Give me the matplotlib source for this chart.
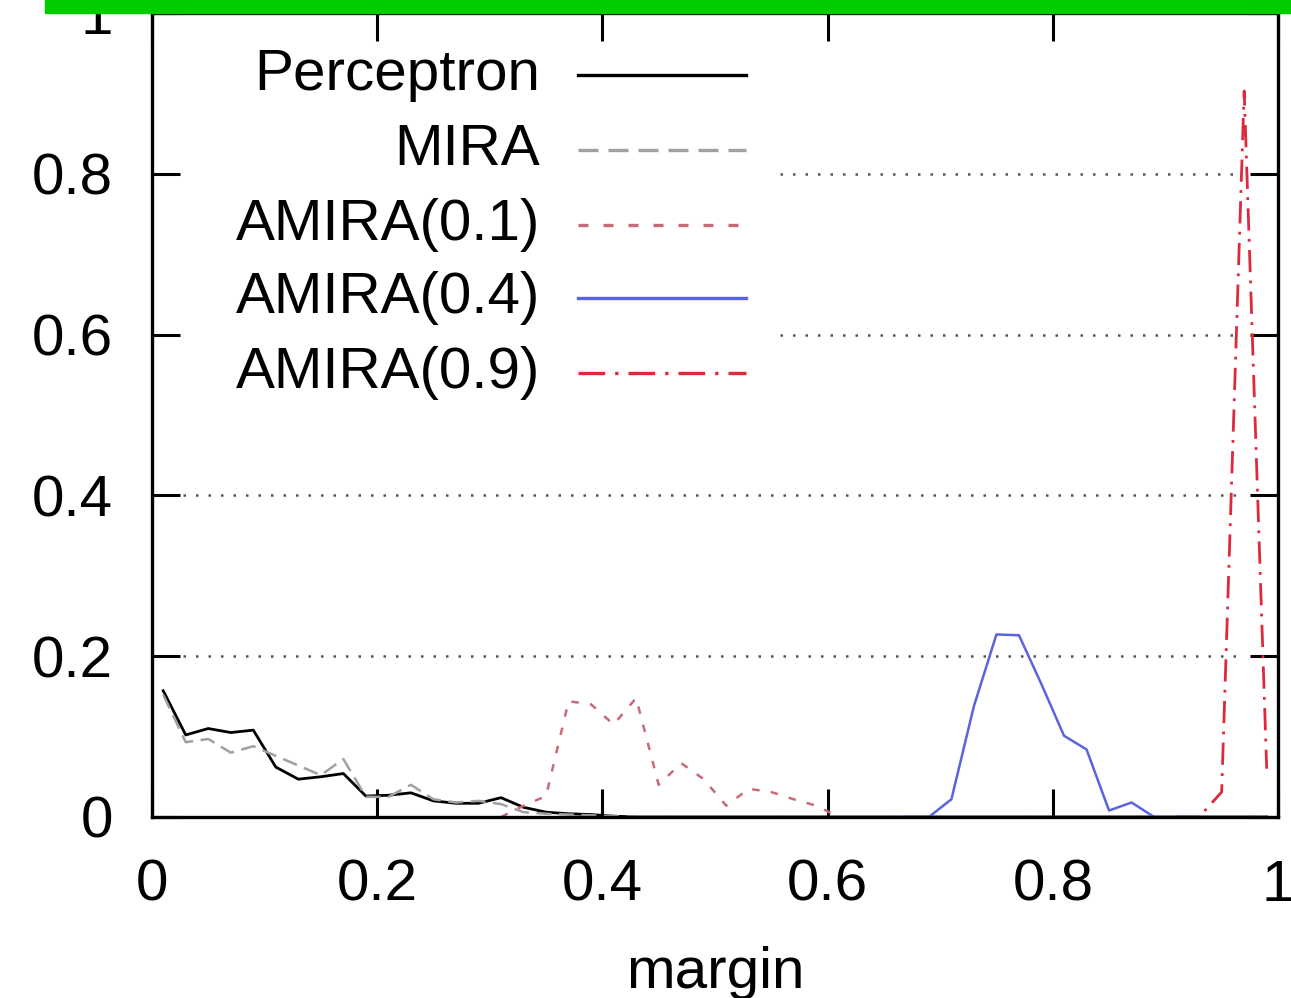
import numpy as np
import matplotlib
matplotlib.use("Agg")
import matplotlib.pyplot as plt
from matplotlib.patches import Rectangle
from matplotlib.lines import Line2D

plt.rcParams['font.family'] = ['Liberation Sans', 'DejaVu Sans']

# histogram of margins, bins of width 0.02 (centres)
perc_x = [0.01, 0.03, 0.05, 0.07, 0.09, 0.11, 0.13, 0.15, 0.17, 0.19, 0.21,
          0.23, 0.25, 0.27, 0.29, 0.31, 0.33, 0.35, 0.37, 0.39, 0.41, 0.43, 0.99]
perc_y = [0.157, 0.102, 0.110, 0.105, 0.108, 0.062, 0.047, 0.050, 0.054, 0.026, 0.027,
          0.030, 0.020, 0.017, 0.017, 0.024, 0.012, 0.006, 0.004, 0.003, 0.001, 0.0, 0.0]

mira_x = [0.01, 0.03, 0.05, 0.07, 0.09, 0.11, 0.13, 0.15, 0.17, 0.19, 0.21,
          0.23, 0.25, 0.27, 0.29, 0.31, 0.33, 0.35, 0.37, 0.39, 0.41, 0.43, 0.99]
mira_y = [0.152, 0.093, 0.097, 0.080, 0.088, 0.076, 0.064, 0.052, 0.072, 0.025, 0.025,
          0.040, 0.022, 0.018, 0.020, 0.016, 0.006, 0.004, 0.003, 0.002, 0.001, 0.0, 0.0]

a01_x = [0.31, 0.33, 0.35, 0.37, 0.39, 0.41, 0.43, 0.45, 0.47, 0.49, 0.51,
         0.53, 0.55, 0.57, 0.59, 0.61]
a01_y = [0.0, 0.014, 0.026, 0.144, 0.140, 0.115, 0.148, 0.040, 0.067, 0.047, 0.014,
         0.035, 0.031, 0.022, 0.014, 0.0]

a04_x = [0.67, 0.69, 0.71, 0.73, 0.75, 0.77, 0.79, 0.81, 0.83, 0.85, 0.87, 0.89]
a04_y = [0.0, 0.0, 0.022, 0.138, 0.227, 0.226, 0.165, 0.101, 0.084, 0.008, 0.018, 0.0]

a09_x = [0.91, 0.93, 0.95, 0.97, 0.99]
a09_y = [0.0, 0.0, 0.031, 0.903, 0.060]

labels = ['Perceptron', 'MIRA', 'AMIRA(0.1)', 'AMIRA(0.4)', 'AMIRA(0.9)']
ticks = [0, 0.2, 0.4, 0.6, 0.8, 1]
tick_labels = ['0', '0.2', '0.4', '0.6', '0.8', '1']

styles = [
    dict(color='black', lw=2.0, ls='-'),
    dict(color='#a0a0a0', lw=1.8, ls=(0, (6, 3))),
    dict(color='#c86a78', lw=1.8, ls=(0, (3, 4.5))),
    dict(color='#5a64e0', lw=1.8, ls='-'),
    dict(color='#e0283c', lw=2.0, ls=(0, (8, 3, 1, 3))),
]

fig = plt.figure(figsize=(12.91, 9.98), dpi=100)
ax = fig.add_axes([0.1177, 0.1814, 0.9899 - 0.1177, 0.987 - 0.1814])

series = [(perc_x, perc_y), (mira_x, mira_y), (a01_x, a01_y), (a04_x, a04_y), (a09_x, a09_y)]
for (xs, ys), st in zip(series, styles):
    ax.plot(xs, ys, **st)

ax.set_xlim(0, 1)
ax.set_ylim(0, 1)

# dotted grid, hidden behind the key for the upper rows
for t in ticks[1:-1]:
    start = 0.558 if t > 0.5 else 0.028
    ax.axhline(t, xmin=start, xmax=0.965, color='#555555', lw=1.8,
               ls=(0, (1.0, 4.0)), zorder=0.5)

ax.set_xticks(ticks)
ax.set_xticklabels(tick_labels)
ax.set_yticks(ticks)
ax.set_yticklabels(tick_labels)
ax.tick_params(direction='in', length=20, width=2.2, labelsize=42,
               top=True, right=True)
ax.tick_params(axis='x', pad=30)
ax.tick_params(axis='y', pad=28)
for s in ax.spines.values():
    s.set_linewidth(2.4)

ax.set_xlabel('margin', fontsize=42, labelpad=24)

# key drawn gnuplot-style: right aligned text, sample to its right
rows = [0.923, 0.830, 0.736, 0.645, 0.552]
for lab, st, ry in zip(labels, styles, rows):
    ax.text(0.3446, ry, lab, transform=ax.transAxes, ha='right', va='center',
            fontsize=42)
    ax.add_line(Line2D([0.378, 0.5275], [ry, ry], transform=ax.transAxes,
                       color=st['color'], ls=st['ls'], lw=2.4))

# green strip across the top of the image
fig.patches.append(Rectangle((45 / 1291, 1 - 13 / 998), 1, 13 / 998,
                             transform=fig.transFigure, color='#00cc00', zorder=10))

fig.savefig('out.png', dpi=100)
